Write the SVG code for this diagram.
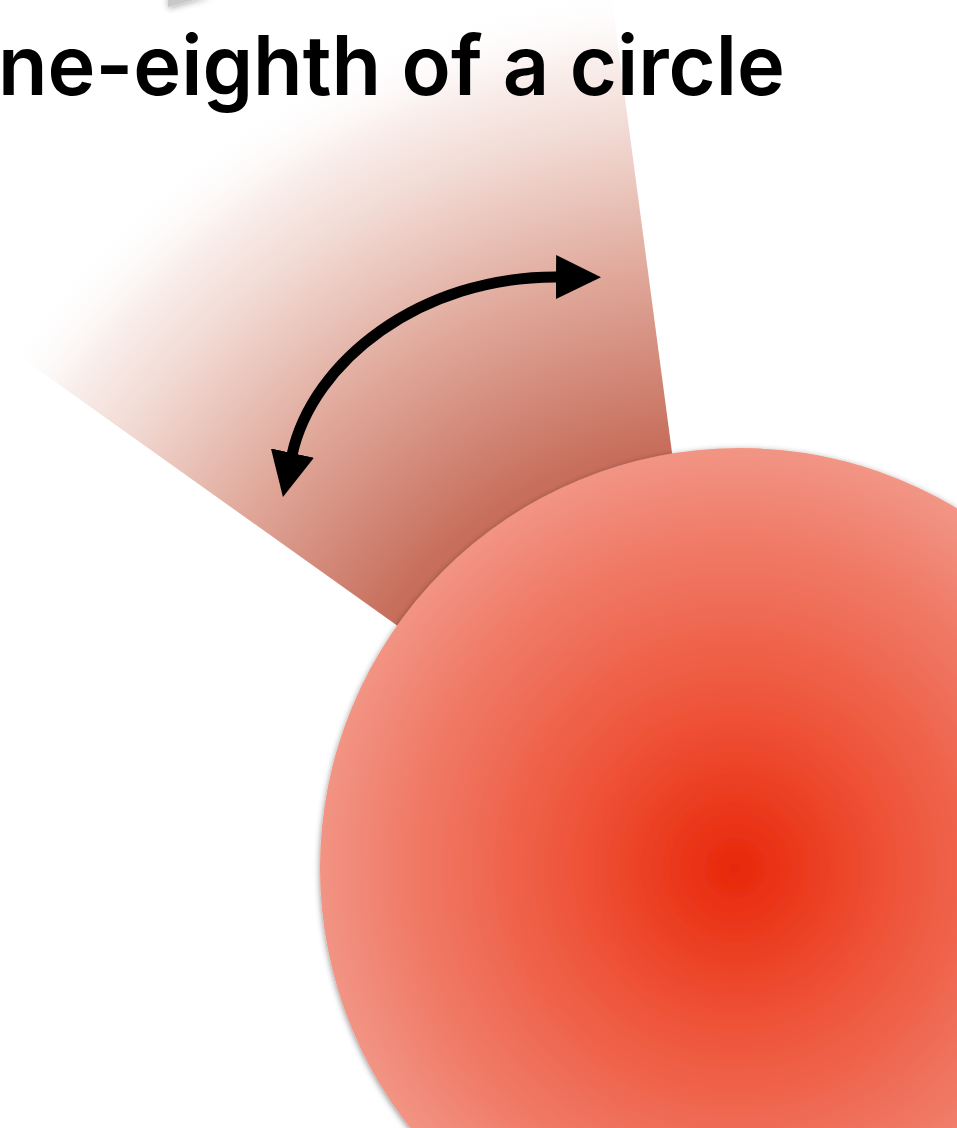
<svg xmlns="http://www.w3.org/2000/svg" width="957" height="1128" viewBox="0 0 957 1128">
  <style>
    .title { font-family: Inter, "Liberation Sans", sans-serif; font-weight: 600; font-size: 83px; fill: #000; }
    .arc { fill: none; stroke: #000; stroke-width: 11; }
  </style>
  <defs>
    <radialGradient id="wedgeGrad" gradientUnits="userSpaceOnUse" cx="728" cy="860" r="950">
      <stop offset="0" stop-color="#b5523e"/>
      <stop offset="0.44" stop-color="#c76e5c"/>
      <stop offset="0.62" stop-color="#dfa698"/>
      <stop offset="0.78" stop-color="#f2dbd5"/>
      <stop offset="0.85" stop-color="#f9eeeb"/>
      <stop offset="0.93" stop-color="#ffffff" stop-opacity="0"/>
    </radialGradient>
    <radialGradient id="ballGrad" gradientUnits="userSpaceOnUse" cx="735" cy="868" r="420">
      <stop offset="0" stop-color="#e8270a"/>
      <stop offset="0.35" stop-color="#ee5035"/>
      <stop offset="0.8" stop-color="#f07d6a"/>
      <stop offset="1" stop-color="#f29585"/>
    </radialGradient>
    <filter id="shadow" x="-20%" y="-20%" width="140%" height="140%">
      <feDropShadow dx="0" dy="2" stdDeviation="3" flood-color="#000" flood-opacity="0.45"/>
    </filter>
    <filter id="soft" x="-50%" y="-50%" width="200%" height="200%">
      <feDropShadow dx="0" dy="2" stdDeviation="3" flood-color="#000" flood-opacity="0.3"/>
    </filter>
    <marker id="head" viewBox="0 0 45 44" markerUnits="userSpaceOnUse" markerWidth="45" markerHeight="44" refX="2" refY="22" orient="auto-start-reverse">
      <path d="M0,0 L45,22 L0,44 z" fill="#000"/>
    </marker>
  </defs>

  <g id="top-shape">
    <polygon points="168,-5 212,-5 168,7" fill="#c8c8c8" filter="url(#soft)"/>
  </g>

  <g id="wedge">
    <polygon points="726,860 610,-15 -120,-15 -120,257" fill="url(#wedgeGrad)"/>
  </g>

  <g id="title">
    <text class="title" x="-2" y="95" textLength="787" lengthAdjust="spacingAndGlyphs">ne-eighth of a circle</text>
  </g>

  <g id="ball">
    <circle cx="740" cy="868" r="420" fill="url(#ballGrad)" filter="url(#shadow)"/>
  </g>

  <g id="connectors">
    <path class="arc" d="M292,455 C312,362 420,276 558,277" marker-start="url(#head)" marker-end="url(#head)"/>
  </g>
</svg>
